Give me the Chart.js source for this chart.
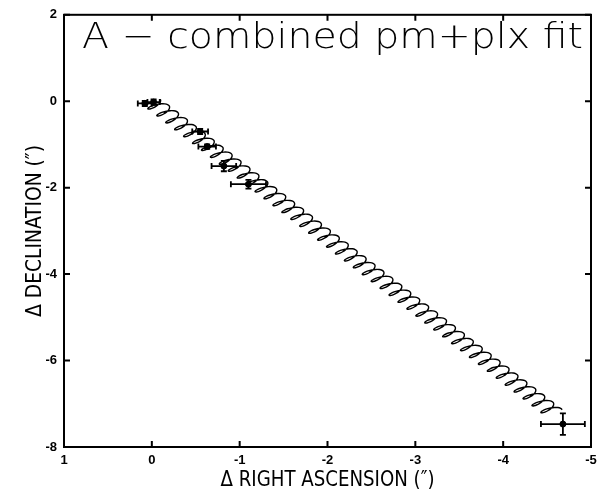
<!DOCTYPE html>
<html lang="en">
<head>
<meta charset="UTF-8">
<title>A - combined pm+plx fit</title>
<style>
  html, body { margin: 0; padding: 0; background: #fff; }
</style>
</head>
<body>
<canvas id="myChart" width="615" height="491"></canvas>

<script src="https://cdn.jsdelivr.net/npm/chart.js@4.4.0/dist/chart.umd.min.js"></script>
<script>
// observed positions (arcsec) with errors
var raObs  = [0.08, -0.02, -0.55, -0.63, -0.82, -1.10, -4.68];
var decObs = [-0.05, -0.02, -0.70, -1.05, -1.50, -1.92, -7.47];
var raErr  = [0.08, 0.07, 0.09, 0.10, 0.14, 0.20, 0.25];
var decErr = [0.06, 0.06, 0.06, 0.05, 0.12, 0.10, 0.25];

// fitted pm+plx track: start, shift per loop (one year), number of loops
var fitStart = [0.0, -0.02];
var fitStep  = [-0.1017, -0.1597];
var fitLoops = 45;
// one yearly loop of the fit (offsets in arcsec)
var loopPath = [
  [-0.0964,  0.0710], [-0.1001,  0.0290], [-0.0896, -0.0187], [-0.0675, -0.0668],
  [-0.0378, -0.1092], [-0.0063, -0.1412], [ 0.0212, -0.1592], [ 0.0397, -0.1620],
  [ 0.0456, -0.1507], [ 0.0366, -0.1290], [ 0.0133, -0.1012], [-0.0215, -0.0728],
  [-0.0638, -0.0507], [-0.1081, -0.0387], [-0.1483, -0.0406], [-0.1796, -0.0578]
];

var raTicks  = [1, 0, -1, -2, -3, -4, -5];
var decTicks = [2, 0, -2, -4, -6, -8];

var fitPoints = [];
for (var k = 0; k < fitLoops; k++) {
    for (var i = 0; i < loopPath.length; i++) {
        fitPoints.push({
            x: fitStart[0] + k * fitStep[0] + loopPath[i][0],
            y: fitStart[1] + k * fitStep[1] + loopPath[i][1]
        });
    }
}
fitPoints.push({
    x: fitStart[0] + fitLoops * fitStep[0] + loopPath[0][0],
    y: fitStart[1] + fitLoops * fitStep[1] + loopPath[0][1]
});

var obsPoints = raObs.map(function(v, i){ return {x: v, y: decObs[i]}; });

function f_text(ctx, text, x, y, width, font, align, rot) {
    ctx.save();
    ctx.font = font;
    ctx.translate(x, y);
    if (rot) ctx.rotate(rot);
    var w = ctx.measureText(text).width;
    ctx.scale(width / w, 1);
    ctx.textAlign = align;
    ctx.textBaseline = 'alphabetic';
    ctx.fillStyle = '#000';
    ctx.fillText(text, 0, 0);
    ctx.restore();
}

const framePlugin = {
    id: 'frame',
    afterDatasetsDraw(chart) {
        var ctx = chart.ctx, xs = chart.scales.x, ys = chart.scales.y;
        ctx.save();
        ctx.strokeStyle = '#000';
        ctx.lineWidth = 1.8;
        ctx.beginPath();
        for (var i = 0; i < raObs.length; i++) {
            var px = xs.getPixelForValue(raObs[i]), py = ys.getPixelForValue(decObs[i]);
            var x1 = xs.getPixelForValue(raObs[i] + raErr[i]), x2 = xs.getPixelForValue(raObs[i] - raErr[i]);
            var y1 = ys.getPixelForValue(decObs[i] + decErr[i]), y2 = ys.getPixelForValue(decObs[i] - decErr[i]);
            ctx.moveTo(x1, py); ctx.lineTo(x2, py);
            ctx.moveTo(x1, py - 3); ctx.lineTo(x1, py + 3);
            ctx.moveTo(x2, py - 3); ctx.lineTo(x2, py + 3);
            ctx.moveTo(px, y1); ctx.lineTo(px, y2);
            ctx.moveTo(px - 3, y1); ctx.lineTo(px + 3, y1);
            ctx.moveTo(px - 3, y2); ctx.lineTo(px + 3, y2);
        }
        ctx.stroke();
        ctx.restore();
    },
    afterDraw(chart) {
        var ctx = chart.ctx, a = chart.chartArea, xs = chart.scales.x, ys = chart.scales.y;
        ctx.save();
        ctx.strokeStyle = '#000';
        ctx.lineWidth = 2;
        ctx.strokeRect(a.left, a.top, a.right - a.left, a.bottom - a.top);
        ctx.beginPath();
        raTicks.forEach(function(v){
            var px = xs.getPixelForValue(v);
            ctx.moveTo(px, a.bottom); ctx.lineTo(px, a.bottom - 6);
            ctx.moveTo(px, a.top); ctx.lineTo(px, a.top + 6);
        });
        decTicks.forEach(function(v){
            var py = ys.getPixelForValue(v);
            ctx.moveTo(a.left, py); ctx.lineTo(a.left + 6, py);
            ctx.moveTo(a.right, py); ctx.lineTo(a.right - 6, py);
        });
        ctx.stroke();
        ctx.restore();

        f_text(ctx, 'A \u2212 combined pm+plx fit', 82, 48, 501, '200 36px "DejaVu Sans"', 'left', 0);
        f_text(ctx, '\u0394 RIGHT ASCENSION (\u2033)', (a.left + a.right) / 2, 486, 214, '300 22px "DejaVu Sans Condensed"', 'center', 0);
        f_text(ctx, '\u0394 DECLINATION (\u2033)', 41, (a.top + a.bottom) / 2, 172, '300 22px "DejaVu Sans Condensed"', 'center', -Math.PI / 2);
    }
};

const tickFont = {family: '"Liberation Sans", Arial, sans-serif', weight: 'bold', size: 13};

const ctx = document.getElementById('myChart').getContext('2d');
const myChart = new Chart(ctx, {
    type: 'scatter',
    data: {
        datasets: [{
            data: fitPoints,
            showLine: true,
            borderColor: '#000',
            borderWidth: 1.4,
            pointRadius: 0,
            tension: 0.35,
            fill: false
        }, {
            data: obsPoints,
            pointRadius: 3,
            backgroundColor: '#000',
            borderColor: '#000'
        }]
    },
    options: {
        responsive: false,
        animation: false,
        devicePixelRatio: 1,
        layout: { padding: {top: 13, right: 24, left: 0, bottom: 0} },
        plugins: { legend: {display: false}, tooltip: {enabled: false} },
        scales: {
            x: {
                type: 'linear', reverse: true, min: -5, max: 1,
                afterBuildTicks: function(s){ s.ticks = raTicks.map(function(v){ return {value: v}; }); },
                afterFit: function(s){ s.height = 44; },
                ticks: { autoSkip: false, maxRotation: 0, padding: 6, color: '#000', font: tickFont },
                grid: { display: false, drawTicks: false },
                border: { display: false }
            },
            y: {
                type: 'linear', min: -8, max: 2,
                afterBuildTicks: function(s){ s.ticks = decTicks.map(function(v){ return {value: v}; }); },
                afterFit: function(s){ s.width = 64; },
                ticks: { autoSkip: false, padding: 7, color: '#000', font: tickFont },
                grid: { display: false, drawTicks: false },
                border: { display: false }
            }
        }
    },
    plugins: [framePlugin]
});
</script>
</body>
</html>
